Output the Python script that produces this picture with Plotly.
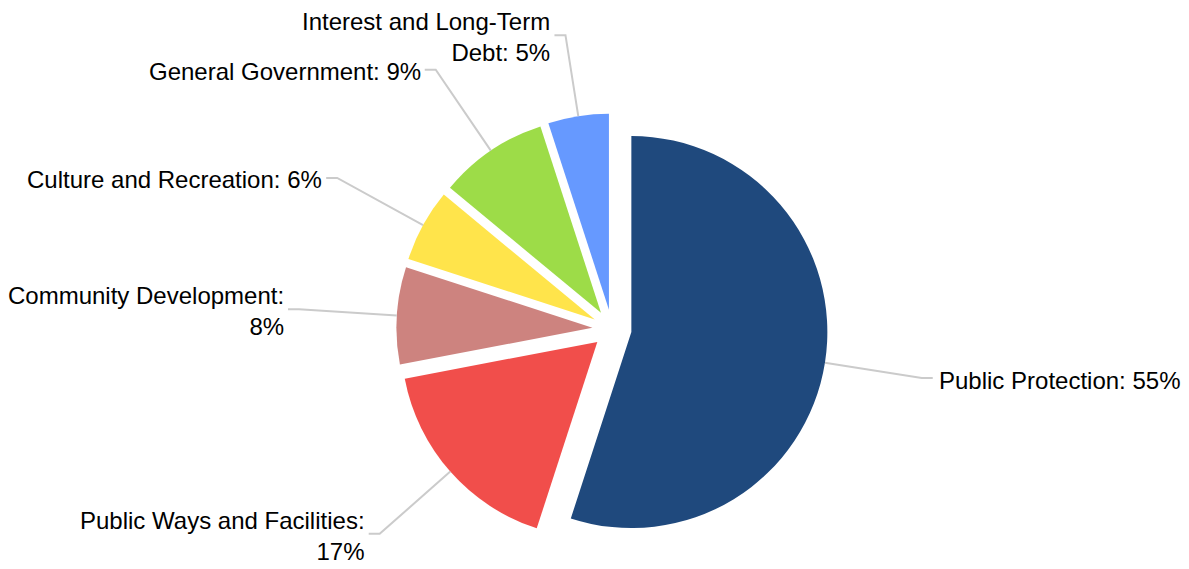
import math
import plotly.graph_objects as go

# ---- data ----
categories = [
    "Public Protection",
    "Public Ways and Facilities",
    "Community Development",
    "Culture and Recreation",
    "General Government",
    "Interest and Long-Term Debt",
]
values = [55, 17, 8, 6, 9, 5]
label_texts = [
    "Public Protection: 55%",
    "Public Ways and Facilities:<br>17%",
    "Community Development:<br>8%",
    "Culture and Recreation: 6%",
    "General Government: 9%",
    "Interest and Long-Term<br>Debt: 5%",
]
colors = ["#1F497D", "#F14E4B", "#CD837F", "#FFE44B", "#9DDC48", "#6699FF"]

# ---- layout geometry ----
W, H = 1189, 569
CX, CY, R = 612.0, 329.0, 196.0
PULL = 0.1
FONT_SIZE = 24
half = R * (1 + PULL)
dom_x = [(CX - half - 30) / W, (CX + half + 30) / W]
dom_y = [1 - (CY + half) / H, 1 - (CY - half) / H]

def px(x):
    return x / W

def py(y):
    return 1 - y / H

fig = go.Figure()
fig.add_trace(go.Pie(
    labels=categories,
    values=values,
    sort=False,
    direction="clockwise",
    rotation=0,
    pull=[PULL] * len(values),
    marker=dict(colors=colors, line=dict(width=0)),
    textinfo="none",
    hoverinfo="label+percent",
    domain=dict(x=dom_x, y=dom_y),
    showlegend=False,
))

total = sum(values)
shapes = []
annotations = []
cum = 0.0
for v, txt in zip(values, label_texts):
    mid = (cum + v / 2) / total * 2 * math.pi
    cum += v
    dx, dy = math.sin(mid), -math.cos(mid)
    scx, scy = CX + R * PULL * dx, CY + R * PULL * dy
    x0, y0 = scx + R * dx, scy + R * dy
    dist = 1.5 * R
    nlines = txt.count("<br>") + 1
    half_h = nlines * 1.3 * FONT_SIZE / 2
    y1 = scy + dist * dy
    # keep label block inside the canvas
    if y1 < half_h + 4:
        dist = (scy - (half_h + 4)) / (-dy)
    elif y1 > H - half_h - 4:
        dist = ((H - half_h - 4) - scy) / dy
    x1, y1 = scx + dist * dx, scy + dist * dy
    side = 1 if dx > 0 else -1
    x2 = x1 + side * 11
    shapes.append(dict(
        type="path", xref="paper", yref="paper",
        path=f"M {px(x0)},{py(y0)} L {px(x1)},{py(y1)} L {px(x2)},{py(y1)}",
        line=dict(color="#CBCBCB", width=2),
    ))
    tx = x2 + (4 if side > 0 else -2)
    annotations.append(dict(
        x=px(tx), y=py(y1 + 2), xref="paper", yref="paper",
        text=txt, showarrow=False,
        xanchor="left" if side > 0 else "right",
        yanchor="middle",
        align="left" if side > 0 else "right",
        font=dict(family="Liberation Sans, Arial, sans-serif", size=FONT_SIZE, color="#000000"),
    ))

fig.update_layout(
    width=W, height=H,
    margin=dict(l=0, r=0, t=0, b=0),
    paper_bgcolor="white",
    plot_bgcolor="white",
    shapes=shapes,
    annotations=annotations,
)

fig.write_html(
    "out.html",
    config={"displayModeBar": False},
    post_script="document.body.style.margin='0';document.body.style.overflow='hidden';",
)
